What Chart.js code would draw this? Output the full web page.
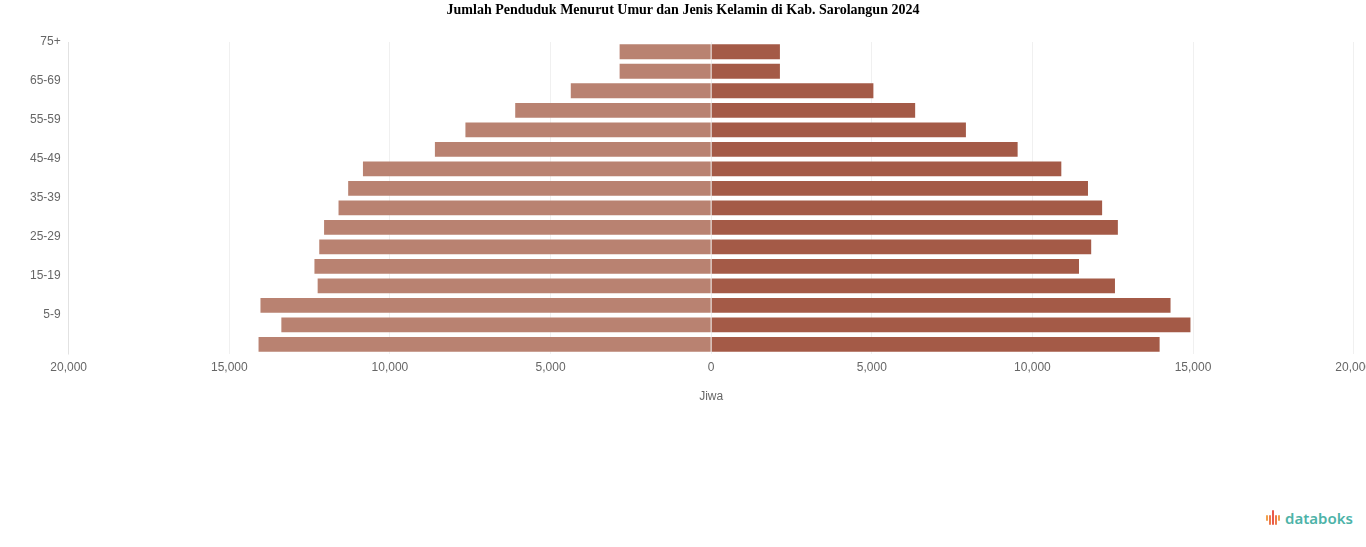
<!DOCTYPE html>
<html>
<head>
<meta charset="utf-8">
<script src="https://cdn.jsdelivr.net/npm/chart.js@4"></script>
<style>
  html, body { margin: 0; padding: 0; background: #fff; overflow: hidden; width: 1366px; height: 547px; }
  #wrap { position: absolute; left: 0; top: 0; width: 1378px; height: 408px; }
  #title { position: absolute; left: 0; top: 1px; width: 1366px; text-align: center;
           font-family: "Liberation Serif", "Times New Roman", serif; font-size: 14px; font-weight: bold;
           color: #000; line-height: 18px; }
  #logo { position: absolute; left: 1265px; top: 507px; height: 22px; display: flex; align-items: center; }
  #logo .icon { position: relative; width: 18px; height: 18px; margin-right: 2px; }
  #logo .icon span { position: absolute; bottom: 2px; width: 2px; border-radius: 1px; }
  #logo .txt { font-family: "Noto Sans", "Open Sans", sans-serif; font-size: 15px; font-weight: 600; color: #4DB3A8; line-height: 22px; }
</style>
</head>
<body>
<div id="wrap"><canvas id="c" width="1378" height="408"></canvas></div>
<div id="title"></div>
<div id="logo">
  <div class="icon">
    <span style="left:1px;height:6px;bottom:6px;background:#F0A04B"></span>
    <span style="left:4px;height:10px;background:#EE7A4A"></span>
    <span style="left:7px;height:15px;background:#E95A4A"></span>
    <span style="left:10px;height:10px;background:#EE7A4A"></span>
    <span style="left:13px;height:6px;bottom:6px;background:#F0A04B"></span>
  </div>
  <div class="txt">databoks</div>
</div>
<script>
const ageGroups = ["75+", "70-74", "65-69", "60-64", "55-59", "50-54", "45-49", "40-44",
                   "35-39", "30-34", "25-29", "20-24", "15-19", "10-14", "5-9", "0-4"];
const maleValues = [2850, 2850, 4370, 6100, 7650, 8600, 10840, 11300,
                    11600, 12050, 12200, 12350, 12250, 14030, 13380, 14090];
const femaleValues = [2140, 2140, 5050, 6350, 7930, 9540, 10900, 11730,
                      12170, 12660, 11830, 11450, 12570, 14300, 14920, 13960];
const xTickValues = [-20000, -15000, -10000, -5000, 0, 5000, 10000, 15000, 20000];
const chartTitle = "Jumlah Penduduk Menurut Umur dan Jenis Kelamin di Kab. Sarolangun 2024";
const xAxisTitle = "Jiwa";

document.getElementById('title').textContent = chartTitle;

new Chart(document.getElementById('c'), {
  type: 'bar',
  data: {
    labels: ageGroups,
    datasets: [
      { label: 'Laki-laki', data: maleValues.map(v => -v), backgroundColor: '#B98271',
        categoryPercentage: 0.8, barPercentage: 0.95 },
      { label: 'Perempuan', data: femaleValues, backgroundColor: '#A45A47',
        categoryPercentage: 0.8, barPercentage: 0.95 }
    ]
  },
  options: {
    indexAxis: 'y',
    responsive: false,
    animation: false,
    layout: { padding: { left: 22, top: 42, right: 0, bottom: 0 } },
    plugins: {
      legend: { display: false },
      tooltip: { enabled: false },
      title: { display: false }
    },
    scales: {
      x: {
        stacked: true,
        min: -20000, max: 20000,
        afterBuildTicks: (axis) => { axis.ticks = xTickValues.map(v => ({ value: v })); },
        grid: { color: 'rgba(0,0,0,0.06)', drawTicks: false },
        border: { display: false },
        ticks: {
          color: '#666', padding: 6,
          font: { family: '"Liberation Sans", Arial, sans-serif', size: 12 },
          callback: (v) => Math.abs(v).toLocaleString('en-US')
        },
        title: {
          display: true, text: xAxisTitle, color: '#666',
          font: { family: '"Liberation Sans", Arial, sans-serif', size: 12 },
          padding: { top: 9, bottom: 4 }
        }
      },
      y: {
        stacked: true,
        grid: { display: false, drawTicks: false },
        border: { display: true, color: 'rgba(0,0,0,0.06)' },
        ticks: {
          color: '#666', padding: 8, autoSkip: false, labelOffset: -9.8,
          font: { family: '"Liberation Sans", Arial, sans-serif', size: 12 },
          callback: function(v, i) { return i % 2 === 0 ? ageGroups[i] : ''; }
        }
      }
    }
  }
});
</script>
</body>
</html>
